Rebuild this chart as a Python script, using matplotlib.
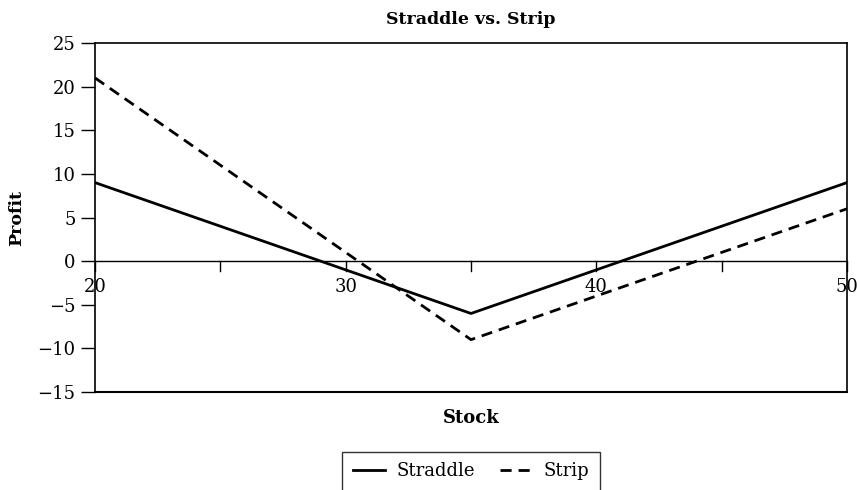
import numpy as np
import matplotlib
matplotlib.use('Agg')
import matplotlib.pyplot as plt

stock = [20, 35, 50]
straddle = [9, -6, 9]
strip = [21, -9, 6]

plt.rcParams['font.family'] = 'DejaVu Serif'
plt.rcParams['mathtext.fontset'] = 'dejavuserif'

fig = plt.figure(figsize=(8.57, 4.9), dpi=100)
ax = fig.add_axes([95 / 857, 1 - 392 / 490, 752 / 857, 349 / 490])

ax.plot(stock, straddle, color='black', lw=2, label='Straddle')
ax.plot(stock, strip, color='black', lw=2, ls=(0, (4, 2.5)), label='Strip')

ax.set_xlim(20, 50)
ax.set_ylim(-15, 25)
ax.set_yticks(range(-15, 30, 5))
ax.tick_params(axis='y', direction='out', length=10, width=1, labelsize=13, pad=4)

# x axis drawn at profit = 0
ax.spines['bottom'].set_visible(False)
ax.axhline(0, color='black', lw=1)
ax.set_xticks([])
for x in range(20, 55, 5):
    ax.plot([x, x], [0, -1.15], color='black', lw=1, clip_on=False)
for x in [20, 30, 40, 50]:
    ax.text(x, -1.9, str(x), ha='center', va='top', fontsize=13)
ax.plot([20, 50], [-15, -15], color='black', lw=1.5, clip_on=False)

for s in ['left', 'right', 'top']:
    ax.spines[s].set_linewidth(1.2)

ax.set_title('Straddle vs. Strip', fontsize=12.5, fontweight='bold', pad=14)
ax.set_ylabel('Profit', fontsize=12.5, fontweight='bold', labelpad=9)
ax.set_xlabel('Stock', fontsize=13, fontweight='bold', labelpad=12)

leg = ax.legend(loc='upper center', bbox_to_anchor=(0.5, -0.145), ncol=2,
                fontsize=13, frameon=True, fancybox=False, edgecolor='black',
                handlelength=1.8, handletextpad=0.6, columnspacing=1.4,
                borderpad=0.6)
leg.get_frame().set_linewidth(1)

fig.savefig('out.png', dpi=100)
